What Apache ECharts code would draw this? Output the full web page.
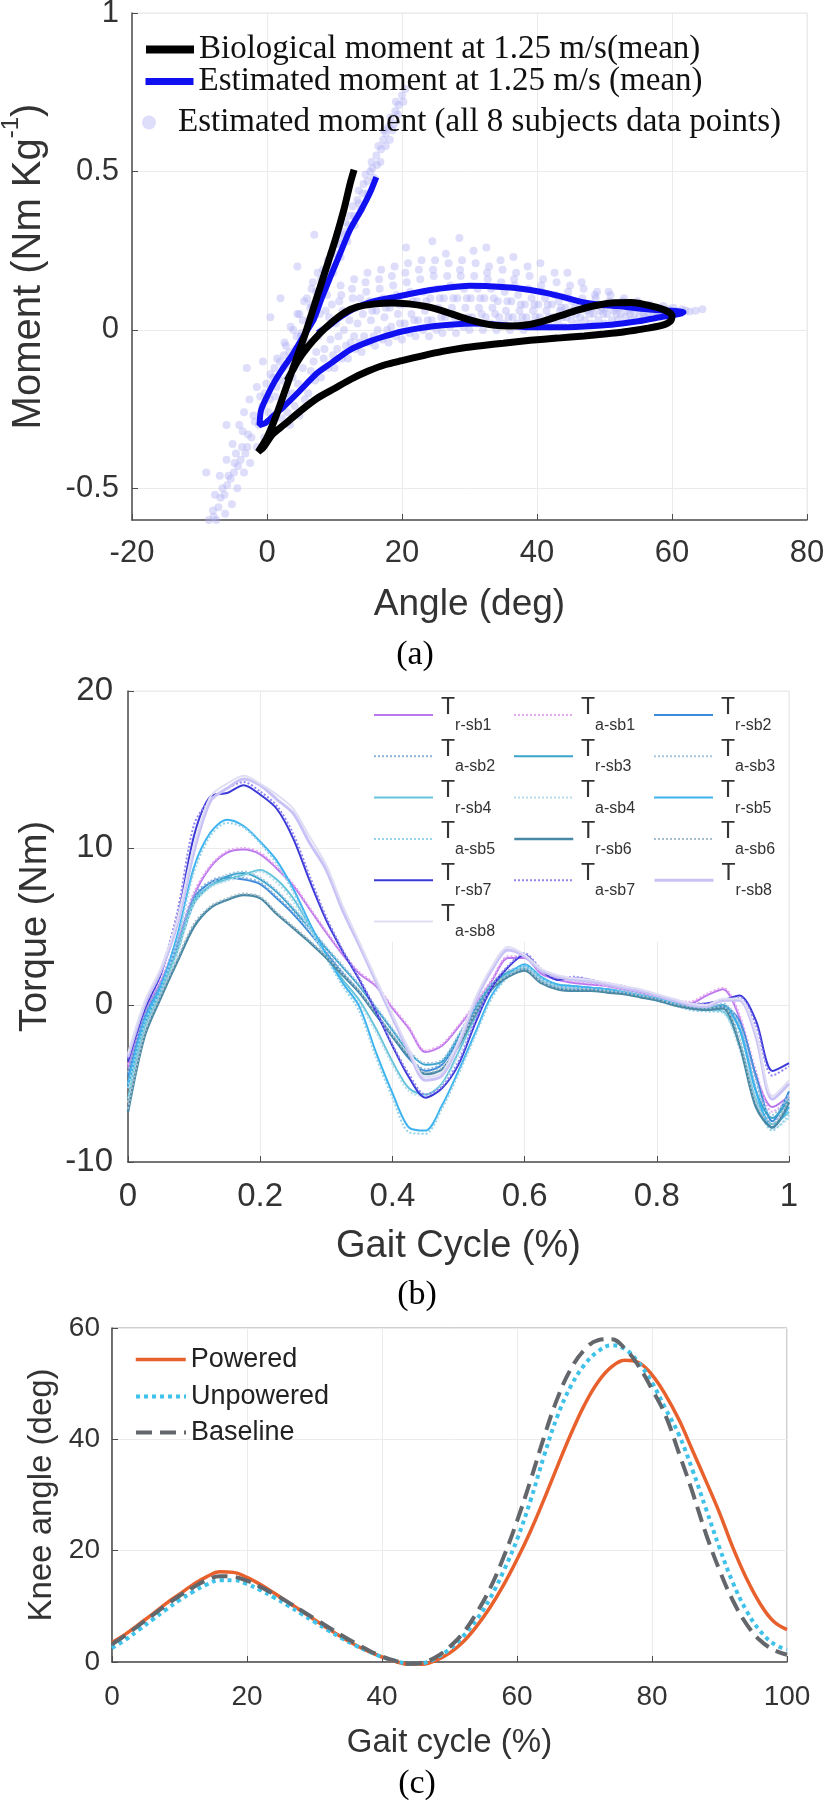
<!DOCTYPE html>
<html><head><meta charset="utf-8">
<script src="https://cdn.jsdelivr.net/npm/echarts/dist/echarts.min.js"></script>
<style>html,body{margin:0;padding:0;background:#fff}#c{width:827px;height:1800px}</style>
</head><body><div id="c"></div>
<script>
// ---------- Panel (a): moment vs angle ----------
const momentTicks = [-0.5, 0, 0.5, 1];
const bioLoop = [[12.9,0.505],[12.3,0.46],[11.4,0.38],[10.2,0.29],[8.7,0.19],[7.2,0.09],[5.7,-0.01],[4.2,-0.1],[2.7,-0.19],[1.2,-0.28],[0,-0.34],[-1.3,-0.385],
 [-0.5,-0.37],[0.8,-0.33],[2.5,-0.3],[5,-0.255],[7.5,-0.215],[10,-0.185],[12.5,-0.155],[15,-0.13],[17.5,-0.11],[20,-0.097],[23,-0.082],[26,-0.068],[29,-0.057],[32,-0.049],[35,-0.042],[39,-0.033],[43,-0.026],[47,-0.019],[50,-0.013],[53,-0.006],[56,0.004],[58.5,0.014],[59.8,0.028],[60,0.045],
 [59,0.062],[57,0.075],[54,0.086],[51,0.085],[48.5,0.076],[46,0.062],[43.5,0.045],[41,0.028],[38.5,0.016],[36,0.012],[33.5,0.015],[31,0.026],[28.5,0.042],[26,0.06],[23.5,0.074],[21,0.082],[18.5,0.085],[16,0.082],[13.5,0.073],[11.5,0.055],[9.5,0.022],[7.8,-0.012],[6,-0.055],[4.5,-0.1],[3,-0.16]];
const estLoop = [[16.2,0.482],[15.2,0.43],[14,0.38],[12.3,0.316],[10.8,0.24],[9.4,0.168],[8.1,0.1],[6.9,0.032],[5.4,-0.02],[3.9,-0.074],[2.4,-0.12],[1,-0.168],[0,-0.21],[-0.9,-0.255],[-1.1,-0.3],
 [-0.3,-0.295],[1,-0.27],[2.5,-0.242],[4.5,-0.2],[7.4,-0.137],[9.5,-0.105],[12.3,-0.063],[15,-0.038],[17.5,-0.02],[20,-0.005],[23,0.007],[27,0.016],[31,0.02],[35,0.015],[39,0.008],[43,0.008],[47,0.011],[51,0.016],[55,0.027],[58.8,0.042],[61,0.05],[61.7,0.056],
 [60,0.06],[56.3,0.065],[52,0.075],[49,0.08],[46.4,0.089],[44,0.103],[41.5,0.116],[39,0.126],[36.5,0.133],[33,0.138],[30,0.139],[27,0.134],[24.2,0.126],[21.5,0.115],[19.3,0.105],[16.8,0.095],[14.3,0.08],[12.3,0.06],[10.5,0.035],[9,0.01],[7.5,-0.01]];
const estPoints = [
 [-8.6,-0.6],[-8.0,-0.57],[-7.5,-0.6],[-7.7,-0.52],[-7.2,-0.56],[-6.6,-0.5],[-7.0,-0.46],[-6.2,-0.58],[-6.3,-0.52],[-5.7,-0.46],[-6.0,-0.41],[-5.2,-0.55],
 [-5.4,-0.47],[-4.8,-0.42],[-5.1,-0.36],[-4.4,-0.5],[-4.3,-0.43],[-3.7,-0.37],[-4.1,-0.3],[-3.4,-0.45],[-3.2,-0.39],[-2.8,-0.33],[-3.4,-0.26],[-2.5,-0.42],
 [-2.3,-0.34],[-1.8,-0.29],[-2.6,-0.22],[-1.5,-0.37],[-1.2,-0.3],[-0.7,-0.24],[-1.5,-0.18],[-0.4,-0.34],[0.2,-0.26],[-0.3,-0.2],[0.5,-0.14],[0.8,-0.3],[-0.6,-0.1],
 [1.2,-0.21],[0.9,-0.15],[1.5,-0.09],[1.8,-0.25],[2.2,-0.16],[1.9,-0.1],[2.6,-0.04],[2.9,-0.2],[3.1,-0.11],[2.8,-0.05],[3.5,0.01],[3.8,-0.15],
 [4.2,-0.06],[3.9,0.0],[4.5,0.05],[5.1,-0.01],[4.8,0.05],[5.5,0.09],[6.2,0.03],[5.9,0.1],[6.6,0.13],[7.1,0.08],[6.8,0.15],[7.5,0.18],
 [8.6,0.13],[8.3,0.19],[9.0,0.22],[9.8,0.18],[9.5,0.24],[10.2,0.27],[10.9,0.23],[10.6,0.29],[11.3,0.31],[11.9,0.28],[11.6,0.34],[12.3,0.36],
 [13.0,0.33],[12.7,0.39],[13.4,0.41],[13.9,0.38],[13.6,0.44],[14.3,0.46],[14.9,0.43],[14.6,0.49],[15.3,0.5],[15.8,0.48],[15.5,0.53],[16.2,0.55],
 [16.8,0.53],[16.5,0.58],[17.2,0.6],[17.6,0.58],[17.3,0.63],[18.0,0.64],[18.6,0.63],[18.3,0.67],[19.0,0.69],[19.4,0.68],[19.1,0.72],[20.0,0.74],[20.5,0.76],
 [-7.9,-0.59],[-6.9,-0.53],[-5.9,-0.49],[-4.9,-0.45],[-4.6,-0.39],[-3.9,-0.41],[-3.6,-0.32],[-2.9,-0.37],[-2.0,-0.27],[-1.0,-0.21],[-0.1,-0.17],[0.4,-0.22],[1.1,-0.12],[1.4,-0.18],
 [2.4,-0.12],[3.3,-0.07],[4.4,-0.02],[5.3,0.03],[6.4,0.07],[7.3,0.12],[8.0,0.16],[8.8,0.18],[9.3,0.2],[10.0,0.24],[10.8,0.27],[11.5,0.3],[12.1,0.33],[12.9,0.36],
 [13.6,0.4],[14.2,0.43],[14.9,0.47],[15.6,0.51],[16.3,0.52],[16.9,0.57],[17.6,0.62],[18.2,0.6],[18.8,0.65],[19.5,0.71],[20.2,0.72],
 [-6,-0.3],[-3,-0.12],[0.5,0.04],[-9,-0.45],[4.5,0.2],[7,0.3],[2,0.1],
 [2.2,-0.28],[2.8,-0.22],[3.1,-0.15],[2.5,-0.08],[3.4,-0.3],[4.1,-0.24],[4.6,-0.17],[4.3,-0.08],[5,-0.02],[4.8,-0.27],[5.3,-0.12],
 [6.1,-0.2],[6.5,-0.13],[6.2,-0.04],[6.8,0.03],[7.1,-0.16],[6.6,0.08],[7.3,-0.07],
 [8,-0.15],[8.4,-0.09],[8.2,0.0],[8.7,0.06],[9.1,-0.12],[8.9,0.11],[9.4,-0.03],[9.2,0.04],
 [10,-0.12],[10.4,-0.06],[10.2,0.02],[10.7,0.09],[11.1,-0.09],[10.9,0.14],[11.4,0.0],[11.2,0.06],
 [12,-0.09],[12.4,-0.04],[12.2,0.03],[12.7,0.1],[13.1,-0.06],[12.9,0.16],[13.4,0.02],[13.2,0.07],
 [14,-0.07],[14.4,-0.02],[14.2,0.05],[14.7,0.12],[15.1,-0.04],[14.9,0.18],[15.4,0.03],[15.2,0.09],
 [16,-0.05],[16.4,0.0],[16.2,0.06],[16.7,0.13],[17.1,-0.03],[16.9,0.19],[17.4,0.04],[17.2,0.1],
 [18,-0.04],[18.4,0.01],[18.2,0.07],[18.7,0.14],[19.1,-0.02],[18.9,0.2],[19.4,0.05],[19.2,0.11],
 [20,-0.03],[20.4,0.02],[20.2,0.08],[20.7,0.15],[21.1,-0.01],[20.9,0.21],[21.4,0.05],[21.2,0.12],[20.6,0.26],
 [22,-0.02],[22.4,0.03],[22.2,0.09],[22.7,0.16],[23.1,0.0],[22.9,0.22],[23.4,0.06],[23.2,0.12],
 [24,-0.02],[24.4,0.03],[24.2,0.1],[24.7,0.17],[25.1,0.0],[24.9,0.22],[25.4,0.07],[25.2,0.13],[24.5,0.28],
 [26,-0.01],[26.4,0.04],[26.2,0.1],[26.7,0.17],[27.1,0.01],[26.9,0.21],[27.4,0.07],[27.2,0.14],
 [28,-0.01],[28.4,0.04],[28.2,0.1],[28.7,0.17],[29.1,0.01],[28.9,0.22],[29.4,0.07],[29.2,0.13],[28.5,0.29],
 [30,0.0],[30.4,0.04],[30.2,0.1],[30.7,0.17],[31.1,0.02],[30.9,0.21],[31.4,0.07],[31.2,0.13],
 [32,0.0],[32.4,0.04],[32.2,0.1],[32.7,0.16],[33.1,0.02],[32.9,0.2],[33.4,0.07],[33.2,0.13],[32.5,0.26],
 [34,0.0],[34.4,0.04],[34.2,0.09],[34.7,0.15],[35.1,0.02],[34.9,0.19],[35.4,0.06],[35.2,0.12],
 [36,0.0],[36.4,0.04],[36.2,0.09],[36.7,0.14],[37.1,0.02],[36.9,0.18],[37.4,0.06],[37.2,0.11],[36.5,0.23],
 [38,0.0],[38.4,0.04],[38.2,0.08],[38.7,0.13],[39.1,0.02],[38.9,0.17],[39.4,0.06],[39.2,0.1],
 [40,0.01],[40.4,0.04],[40.2,0.08],[40.7,0.12],[41.1,0.02],[40.9,0.16],[41.4,0.06],[41.2,0.1],[40.5,0.21],
 [42,0.01],[42.4,0.04],[42.2,0.08],[42.7,0.11],[43.1,0.02],[42.9,0.15],[43.4,0.06],[43.2,0.09],
 [44,0.01],[44.4,0.04],[44.2,0.07],[44.7,0.1],[45.1,0.03],[44.9,0.14],[45.4,0.06],[45.2,0.09],[44.5,0.18],
 [46,0.02],[46.4,0.04],[46.2,0.07],[46.7,0.1],[47.1,0.03],[46.9,0.13],[47.4,0.06],[47.2,0.08],
 [48,0.02],[48.4,0.05],[48.2,0.07],[48.7,0.1],[49.1,0.03],[48.9,0.12],[49.4,0.06],[49.2,0.08],
 [50,0.02],[50.4,0.05],[50.2,0.07],[50.7,0.09],[51.1,0.03],[50.9,0.11],[51.4,0.06],
 [52,0.03],[52.4,0.05],[52.2,0.07],[52.7,0.09],[53.1,0.04],[52.9,0.1],[53.4,0.06],
 [54,0.03],[54.4,0.05],[54.2,0.07],[54.7,0.08],[55.1,0.04],[54.9,0.09],[55.4,0.06],
 [56,0.04],[56.4,0.05],[56.2,0.07],[56.7,0.08],[57.1,0.045],[57.4,0.06],
 [58,0.045],[58.4,0.055],[58.2,0.07],[58.7,0.075],[59.1,0.05],[59.4,0.065],
 [60,0.05],[60.5,0.06],[61,0.055],[61.5,0.065],[62,0.06],[62.6,0.058],[63.5,0.06],[64.5,0.065],
 [3.0,-0.26],[3.7,-0.2],[4.0,-0.12],[5.6,-0.22],[5.8,-0.06],[6.9,-0.1],[7.6,-0.02],[7.8,0.05],[8.5,-0.06],[9.6,0.08],[9.8,-0.08],[10.6,-0.02],
 [11.0,0.11],[11.7,-0.05],[12.6,0.13],[12.9,-0.02],[13.8,0.1],[13.7,-0.04],[14.6,0.15],[15.6,0.06],[15.8,-0.02],[16.6,0.16],[17.6,0.07],[17.8,0.0],
 [18.5,0.17],[19.6,0.08],[19.7,0.02],[20.5,0.18],[21.6,0.09],[21.8,0.03],[22.5,0.19],[23.6,0.09],[23.8,0.03],[24.6,0.19],[25.6,0.1],[25.8,0.04],
 [26.5,0.24],[27.6,0.1],[27.8,0.04],[28.6,0.19],[29.6,0.1],[29.8,0.04],[30.6,0.25],[31.6,0.1],[31.8,0.05],[32.6,0.18],[33.6,0.1],[33.8,0.05],
 [34.6,0.22],[35.6,0.09],[35.8,0.04],[36.6,0.16],[37.6,0.08],[37.8,0.04],[38.6,0.2],[39.6,0.08],[39.8,0.04],[40.6,0.14],[41.6,0.08],[41.8,0.04],
 [42.6,0.18],[43.6,0.07],[43.8,0.04],[44.6,0.12],[45.6,0.07],[45.8,0.05],[46.6,0.15],[47.6,0.07],[47.8,0.05],[48.6,0.11],[49.6,0.07],[49.8,0.05],
 [50.6,0.12],[51.6,0.07],[51.8,0.05],[53.6,0.07],[53.8,0.05],[55.6,0.07],[55.8,0.05],[57.6,0.07],[57.8,0.055],[59.6,0.06],[60.2,0.07]
];

// ---------- Panel (b): torque vs gait cycle ----------
const gaitX = [0,0.025,0.05,0.075,0.1,0.125,0.15,0.175,0.2,0.225,0.25,0.275,0.3,0.325,0.35,0.375,0.4,0.425,0.45,0.475,0.5,0.525,0.55,0.575,0.6,0.625,0.65,0.675,0.7,0.725,0.75,0.775,0.8,0.825,0.85,0.875,0.9,0.925,0.95,0.975,1];
const tr_sb1 = [-4.0,-0.5,1.5,4.0,7.0,8.8,9.7,9.9,9.6,8.7,7.6,6.1,4.6,3.2,2.0,1.2,-0.2,-1.5,-3.0,-2.6,-1.4,0.0,1.5,3.0,3.0,2.0,1.6,1.4,1.3,1.2,1.0,0.8,0.5,0.3,0.1,0.6,1.0,-0.8,-4.5,-6.5,-5.8];
const ta_sb1 = [-3.8,-0.3,1.7,4.2,7.2,8.9,9.8,10.0,9.7,8.8,7.7,6.2,4.7,3.3,2.1,1.3,-0.1,-1.4,-2.9,-2.5,-1.3,0.1,1.6,3.1,3.1,2.1,1.7,1.5,1.4,1.2,1.0,0.8,0.5,0.3,0.2,0.7,1.1,-0.6,-4.2,-6.8,-6.0];
const tr_sb2 = [-4.5,-0.8,1.3,3.8,6.8,7.8,8.1,8.0,7.7,6.8,5.8,4.6,3.3,2.0,0.8,-0.6,-2.0,-3.4,-4.2,-3.8,-2.2,-0.4,1.2,2.0,2.4,1.6,1.2,1.1,1.0,0.9,0.8,0.6,0.4,0.1,-0.1,-0.2,-0.1,-1.0,-4.5,-7.4,-5.5];
const ta_sb2 = [-4.3,-0.6,1.5,4.0,7.0,7.9,8.2,8.1,7.8,6.9,5.9,4.7,3.4,2.1,0.9,-0.5,-1.9,-3.3,-4.1,-3.7,-2.1,-0.3,1.3,2.1,2.5,1.7,1.3,1.2,1.1,1.0,0.9,0.7,0.5,0.2,0.0,-0.1,0.0,-1.2,-4.8,-7.6,-5.8];
const tr_sb3 = [-5.2,-1.2,1.0,3.5,6.5,7.6,8.2,8.4,8.0,7.2,6.1,4.9,3.6,2.4,1.2,-0.2,-1.6,-3.0,-3.8,-3.6,-2.0,-0.2,1.3,2.1,2.3,1.5,1.1,1.0,1.0,0.9,0.8,0.6,0.3,0.1,-0.1,-0.2,0.0,-1.5,-5.5,-7.2,-6.0];
const ta_sb3 = [-5.0,-1.0,1.2,3.7,6.7,7.7,8.3,8.5,8.1,7.3,6.2,5.0,3.7,2.5,1.3,-0.1,-1.5,-2.9,-3.7,-3.5,-1.9,-0.1,1.4,2.2,2.4,1.6,1.2,1.1,1.1,1.0,0.9,0.7,0.4,0.2,0.0,-0.1,0.1,-1.3,-5.2,-7.0,-5.7];
const tr_sb4 = [-6.0,-1.5,0.8,3.5,6.6,7.6,8.0,8.3,8.6,8.0,6.8,5.0,3.2,1.6,0.3,-1.5,-3.6,-5.3,-5.7,-5.0,-3.0,-0.8,1.0,2.0,2.5,1.7,1.3,1.2,1.1,1.0,0.8,0.6,0.4,0.1,-0.2,-0.3,-0.4,-2.5,-6.0,-7.6,-6.8];
const ta_sb4 = [-6.2,-1.7,0.6,3.3,6.4,7.5,7.9,8.2,8.5,7.8,6.6,4.8,3.0,1.4,0.1,-1.7,-3.8,-5.5,-5.8,-5.1,-3.2,-1.0,0.9,1.9,2.4,1.6,1.2,1.1,1.0,0.9,0.7,0.5,0.3,0.0,-0.3,-0.4,-0.5,-2.8,-6.3,-7.9,-7.2];
const tr_sb5 = [-5.0,-1.0,1.2,4.5,8.8,11.0,11.8,11.4,10.4,9.2,7.4,5.2,3.2,1.4,-0.1,-3.0,-5.6,-7.8,-8.0,-6.4,-4.2,-1.8,0.6,1.9,2.6,1.8,1.3,1.2,1.1,1.0,0.8,0.6,0.4,0.1,-0.2,-0.3,-0.2,-1.5,-5.5,-7.8,-6.5];
const ta_sb5 = [-5.3,-1.2,1.0,4.2,8.5,10.8,11.6,11.3,10.3,9.0,7.2,5.0,3.0,1.2,-0.4,-3.3,-5.9,-8.1,-8.2,-6.6,-4.4,-2.0,0.4,1.8,2.5,1.7,1.2,1.1,1.0,0.9,0.7,0.5,0.3,0.0,-0.3,-0.4,-0.4,-1.9,-6.0,-8.0,-7.0];
const tr_sb6 = [-6.8,-2.0,0.5,2.8,5.0,6.2,6.7,7.0,6.8,5.8,4.9,4.0,3.0,1.9,0.8,-0.6,-2.0,-3.3,-4.4,-4.1,-2.6,-0.6,1.0,1.8,2.2,1.4,1.0,0.9,0.9,0.8,0.7,0.5,0.3,0.0,-0.2,-0.3,-0.2,-2.5,-6.5,-7.8,-6.2];
const ta_sb6 = [-6.6,-1.8,0.7,3.0,5.2,6.3,6.8,7.1,6.9,5.9,5.0,4.1,3.1,2.0,0.9,-0.5,-1.9,-3.2,-4.3,-4.0,-2.5,-0.5,1.1,1.9,2.3,1.5,1.1,1.0,1.0,0.9,0.8,0.6,0.4,0.1,-0.1,-0.2,-0.1,-2.2,-6.2,-7.6,-6.0];
const tr_sb7 = [-3.6,-0.3,2.0,5.5,10.8,13.3,13.5,14.0,13.4,12.5,10.6,7.9,5.4,3.4,1.6,-0.4,-2.6,-4.6,-5.9,-5.3,-3.8,-1.2,1.1,2.4,3.2,2.2,1.6,1.7,1.6,1.3,1.1,0.9,0.6,0.3,0.0,0.1,0.3,0.6,-1.0,-4.2,-3.7];
const ta_sb7 = [-3.4,-0.1,2.2,6.0,11.5,13.1,13.8,14.2,13.6,12.7,10.9,8.2,5.6,3.5,1.7,-0.3,-2.5,-4.4,-5.7,-5.2,-3.6,-1.0,1.2,2.5,3.3,2.3,1.7,1.8,1.6,1.4,1.2,0.9,0.6,0.3,0.1,0.1,0.3,0.5,-1.3,-4.5,-3.9];
const tr_sb8 = [-3.3,0.0,2.2,5.2,9.8,13.0,13.8,14.4,14.0,13.1,12.2,10.3,8.6,6.0,3.8,1.5,-0.8,-3.0,-4.8,-4.5,-2.5,0.2,2.2,3.5,3.1,2.2,1.8,1.6,1.5,1.3,1.1,0.9,0.6,0.3,0.0,-0.1,0.3,0.3,-2.0,-6.0,-5.0];
const ta_sb8 = [-3.1,0.2,2.4,5.5,10.2,13.3,14.1,14.6,14.1,13.4,12.5,10.7,8.9,6.3,4.0,1.7,-0.6,-2.8,-4.6,-4.3,-2.3,0.4,2.4,3.7,3.2,2.3,1.9,1.7,1.6,1.4,1.2,1.0,0.7,0.4,0.1,0.0,0.4,0.4,-1.8,-5.8,-4.8];

// ---------- Panel (c): knee angle vs gait cycle ----------
const kneeX = [0,2,4,6,8,10,12,14,16,18,20,22,24,26,28,30,32,34,36,38,40,42,44,46,48,50,52,54,56,58,60,62,64,66,68,70,72,74,76,78,80,82,84,86,88,90,92,94,96,98,100];
const powered = [3.5,5.0,6.8,8.6,10.5,12.2,13.9,15.3,16.2,16.1,15.2,13.9,12.4,10.8,9.2,7.6,6.0,4.5,3.1,1.9,0.9,0.1,-0.4,-0.4,0.3,1.6,3.6,6.4,9.8,13.8,18.4,23.5,29.2,35.2,41.0,46.2,50.3,53.0,54.2,53.8,51.6,48.0,43.5,38.0,32.5,26.8,20.5,15.0,10.5,7.3,5.8];
const unpowered = [2.5,4.0,5.8,7.6,9.4,11.1,12.6,13.9,14.7,14.7,14.0,12.9,11.6,10.2,8.7,7.2,5.7,4.3,3.0,1.9,0.9,0.2,-0.3,-0.2,0.7,2.3,4.6,7.6,11.4,16.3,22.0,29.0,37.0,44.2,49.6,53.4,55.8,56.9,56.2,53.8,50.2,45.5,40.8,34.5,27.5,20.5,14.2,9.2,5.6,3.3,2.2];
const baseline = [3.2,4.8,6.6,8.4,10.2,11.9,13.4,14.7,15.4,15.3,14.6,13.5,12.2,10.8,9.3,7.8,6.3,4.8,3.4,2.1,1.0,0.2,-0.3,-0.1,0.9,2.7,5.2,8.8,13.2,18.8,25.3,32.6,40.4,47.4,52.7,56.1,57.8,58.0,56.3,53.2,49.0,44.3,37.5,30.5,23.0,16.5,11.0,6.8,3.9,2.2,1.3];

// ---------- build ----------
const pair = (xs, ys) => xs.map((x, i) => [x, ys[i]]);
const torqueSeries = [
  ['Tr-sb1', tr_sb1, '#bb78ee', 'solid', 2],
  ['Ta-sb1', ta_sb1, '#e6a6f2', 'dotted', 2],
  ['Tr-sb2', tr_sb2, '#3c8cdb', 'solid', 2],
  ['Ta-sb2', ta_sb2, '#8cb2de', 'dotted', 2],
  ['Tr-sb3', tr_sb3, '#38a4cc', 'solid', 2],
  ['Ta-sb3', ta_sb3, '#a4c6e4', 'dotted', 2],
  ['Tr-sb4', tr_sb4, '#64c4da', 'solid', 2],
  ['Ta-sb4', ta_sb4, '#b8dcec', 'dotted', 2],
  ['Tr-sb5', tr_sb5, '#3cb2ef', 'solid', 2],
  ['Ta-sb5', ta_sb5, '#96d2ea', 'dotted', 2],
  ['Tr-sb6', tr_sb6, '#4a89a5', 'solid', 2.5],
  ['Ta-sb6', ta_sb6, '#a6bfcc', 'dotted', 2],
  ['Tr-sb7', tr_sb7, '#3b38d8', 'solid', 2],
  ['Ta-sb7', ta_sb7, '#9286f0', 'dotted', 2],
  ['Tr-sb8', tr_sb8, '#c8c2f6', 'solid', 3],
  ['Ta-sb8', ta_sb8, '#e0def4', 'solid', 2]
];

const AX = '#4d4d4d', TXT = '#333', GRIDC = '#ebebeb';
const SANS = '"Liberation Sans", Arial, sans-serif';
const SERIF = '"Liberation Serif", "Times New Roman", serif';

function axisBase(extra) {
  return Object.assign({
    type: 'value',
    axisLine: { show: true, onZero: false, lineStyle: { color: AX, width: 1.5 } },
    axisTick: { show: true, inside: true, length: 6, lineStyle: { color: AX } },
    splitLine: { show: true, lineStyle: { color: GRIDC, width: 1 } },
    nameLocation: 'middle'
  }, extra);
}

const series = [];
series.push({ name: 'Estimated moment (all 8 subjects data points)', type: 'scatter', xAxisIndex: 0, yAxisIndex: 0,
  data: estPoints, symbolSize: 8, itemStyle: { color: 'rgba(172,172,246,0.5)' }, z: 2, silent: true });
series.push({ name: 'Estimated moment at 1.25 m/s (mean)', type: 'line', xAxisIndex: 0, yAxisIndex: 0,
  data: estLoop, symbol: 'none', smooth: 0.25, lineStyle: { color: '#1010f0', width: 6 }, itemStyle: { color: '#1010f0' }, z: 3 });
series.push({ name: 'Biological moment at 1.25 m/s(mean)', type: 'line', xAxisIndex: 0, yAxisIndex: 0,
  data: bioLoop, symbol: 'none', smooth: 0.25, lineStyle: { color: '#000', width: 7 }, itemStyle: { color: '#000' }, z: 4 });

torqueSeries.forEach(s => {
  series.push({ name: s[0], type: 'line', xAxisIndex: 1, yAxisIndex: 1, data: pair(gaitX, s[1]),
    symbol: 'none', smooth: 0.3, lineStyle: { color: s[2], type: s[3], width: s[4] }, itemStyle: { color: s[2] }, z: 3 });
});

const kneeSeries = [
  ['Powered', powered, '#e8602c', 'solid', 3.5],
  ['Unpowered', unpowered, '#3ec2ea', 'dotted', 4],
  ['Baseline', baseline, '#63676b', 'dashed', 4]
];
kneeSeries.forEach(s => {
  series.push({ name: s[0], type: 'line', xAxisIndex: 2, yAxisIndex: 2, data: pair(kneeX, s[1]), clip: false,
    symbol: 'none', smooth: 0.4, lineStyle: { color: s[2], type: s[3], width: s[4] }, itemStyle: { color: s[2] }, z: 3 });
});

// legends (line icons drawn without the centre marker)
const noMarker = { opacity: 0 };
const legends = [];
const aLegend = [
  ['Biological moment at 1.25 m/s(mean)', 50, 8],
  ['Estimated moment at 1.25 m/s (mean)', 82, 7],
  ['Estimated moment (all 8 subjects data points)', 123, 0]
];
aLegend.forEach(l => {
  const lg = { data: [l[0]], left: 142, top: l[1] - 17, padding: 0, itemWidth: 48, itemHeight: 14,
    selectedMode: false, textStyle: { fontFamily: SERIF, fontSize: 33, color: '#111' } };
  if (l[2]) { lg.itemStyle = noMarker; lg.lineStyle = { width: l[2] }; }
  legends.push(lg);
});
torqueSeries.forEach((s, i) => {
  const row = Math.floor(i / 3), col = i % 3;
  legends.push({ data: [s[0]], left: [373, 513, 653][col], top: 715 + row * 41.3 - 18.5, padding: 0,
    itemWidth: 59, itemHeight: 14, selectedMode: false, itemStyle: noMarker, lineStyle: { width: s[4] },
    formatter: n => '{t|' + n[0] + '}{s|' + n.slice(1) + '}',
    textStyle: { fontFamily: SANS, color: TXT, rich: {
      t: { fontFamily: SANS, fontSize: 23, color: TXT, padding: [0, 0, 14, 3] },
      s: { fontFamily: SANS, fontSize: 16, color: TXT, padding: [21, 0, 0, 0] } } } });
});
const cLegend = [['Powered', 1360, 3.5], ['Unpowered', 1397, 4], ['Baseline', 1433, 4]];
cLegend.forEach(l => legends.push({ data: [l[0]], left: 134, top: l[1] - 14, padding: 0, itemWidth: 50, itemHeight: 14,
  selectedMode: false, itemStyle: noMarker, lineStyle: { width: l[2] }, textStyle: { fontFamily: SANS, fontSize: 27, color: '#222' } }));

const option = {
  animation: false,
  backgroundColor: '#fff',
  textStyle: { fontFamily: SANS },
  grid: [
    { left: 132, top: 13, width: 675, height: 507, show: true, borderColor: '#e6e6e6', borderWidth: 1, backgroundColor: 'transparent', containLabel: false, outerBoundsMode: 'none' },
    { left: 128, top: 691, width: 661, height: 471, show: true, borderColor: '#e6e6e6', borderWidth: 1, backgroundColor: 'transparent', containLabel: false, outerBoundsMode: 'none' },
    { left: 112, top: 1328, width: 675, height: 334, show: true, borderColor: '#a0a0a0', borderWidth: 1, backgroundColor: 'transparent', containLabel: false, outerBoundsMode: 'none' }
  ],
  xAxis: [
    axisBase({ gridIndex: 0, min: -20, max: 80, interval: 20,
      axisLabel: { fontSize: 31, color: TXT, margin: 18, showMinLabel: true, showMaxLabel: true },
      name: 'Angle (deg)', nameGap: 66, nameTextStyle: { fontSize: 37, color: TXT } }),
    axisBase({ gridIndex: 1, min: 0, max: 1, interval: 0.2,
      axisLabel: { fontSize: 33, color: TXT, margin: 18, showMinLabel: true, showMaxLabel: true },
      name: 'Gait Cycle (%)', nameGap: 66, nameTextStyle: { fontSize: 38, color: TXT } }),
    axisBase({ gridIndex: 2, min: 0, max: 100, interval: 20,
      axisLabel: { fontSize: 28, color: TXT, margin: 21, showMinLabel: true, showMaxLabel: true },
      name: 'Gait cycle (%)', nameGap: 64, nameTextStyle: { fontSize: 33, color: TXT } })
  ],
  yAxis: [
    axisBase({ gridIndex: 0, min: -0.6, max: 1,
      axisLabel: { fontSize: 31, color: TXT, margin: 13, customValues: momentTicks },
      axisTick: { show: true, inside: true, length: 6, lineStyle: { color: AX }, customValues: momentTicks },
      name: '{n|Moment (Nm Kg}{p|-1}{n|)}', nameGap: 83,
      nameTextStyle: { color: TXT, rich: {
        n: { fontSize: 40, color: TXT, fontFamily: SANS, padding: [10, 0, 0, 0] },
        p: { fontSize: 24, color: TXT, fontFamily: SANS, padding: [0, 0, 26, 0] } } } }),
    axisBase({ gridIndex: 1, min: -10, max: 20, interval: 10,
      axisLabel: { fontSize: 33, color: TXT, margin: 15, showMinLabel: true, showMaxLabel: true },
      name: 'Torque (Nm)', nameGap: 60, nameTextStyle: { fontSize: 38, color: TXT } }),
    axisBase({ gridIndex: 2, min: 0, max: 60, interval: 20,
      axisLabel: { fontSize: 28, color: TXT, margin: 12, showMinLabel: true, showMaxLabel: true },
      name: 'Knee angle (deg)', nameGap: 52, nameTextStyle: { fontSize: 33, color: TXT } })
  ],
  legend: legends,
  graphic: [
    { type: 'rect', shape: { x: 360, y: 692, width: 428, height: 250 }, style: { fill: '#fff' }, z: 1, silent: true },
    { type: 'text', x: 415, y: 655, z: 5, style: { text: '(a)', font: '34px ' + SERIF, fill: '#000', textAlign: 'center', textVerticalAlign: 'middle', verticalAlign: 'middle' } },
    { type: 'text', x: 417, y: 1295, z: 5, style: { text: '(b)', font: '34px ' + SERIF, fill: '#000', textAlign: 'center', textVerticalAlign: 'middle', verticalAlign: 'middle' } },
    { type: 'text', x: 417, y: 1784, z: 5, style: { text: '(c)', font: '34px ' + SERIF, fill: '#000', textAlign: 'center', textVerticalAlign: 'middle', verticalAlign: 'middle' } }
  ],
  series: series
};

const chart = echarts.init(document.getElementById('c'), null, { renderer: 'canvas', width: 827, height: 1800 });
chart.setOption(option);
</script></body></html>
